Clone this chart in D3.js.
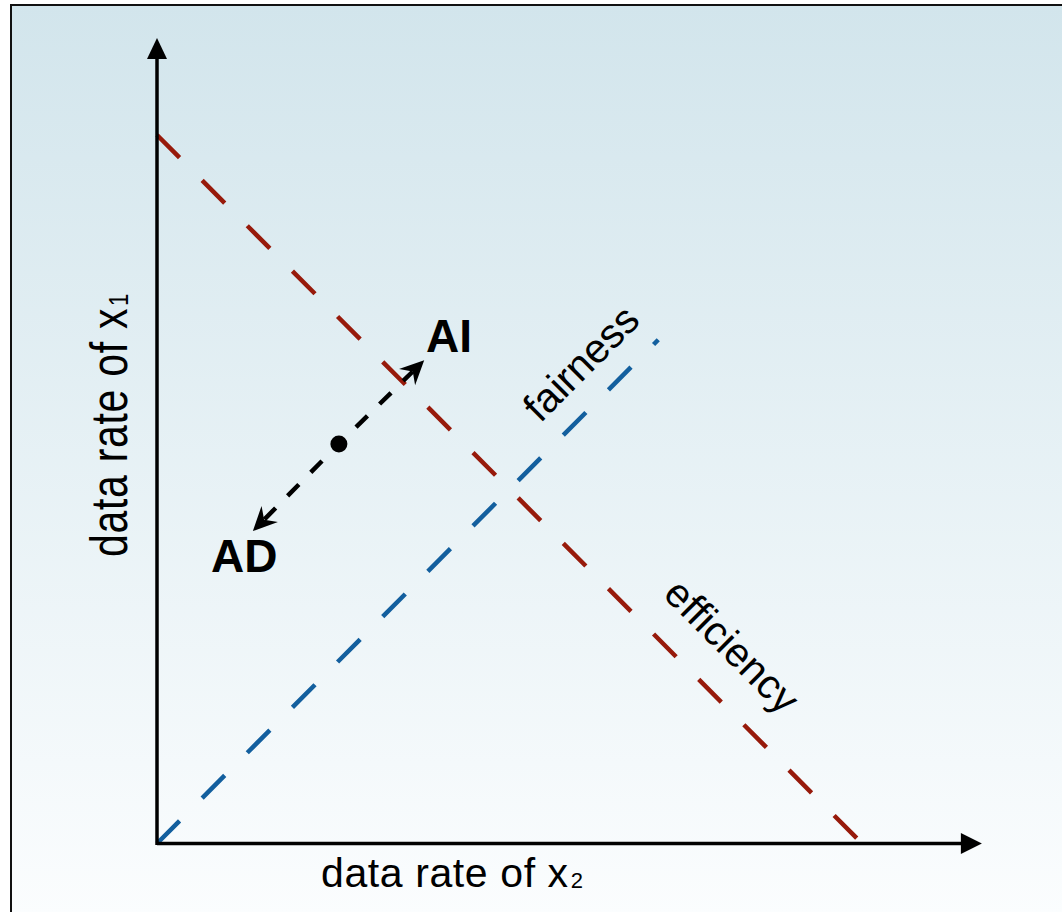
<!DOCTYPE html>
<html>
<head>
<meta charset="utf-8">
<script src="https://cdn.jsdelivr.net/npm/d3@7"></script>
<style>
html,body{margin:0;padding:0;background:#fff;}
svg{display:block;}
text{font-family:"Liberation Sans",Arial,Helvetica,sans-serif;}
</style>
</head>
<body>
<svg id="chart" width="1062" height="912"></svg>
<script>
// ---- data (normalised data rates, capacity = 1) ----
const axisLabels = ["data rate of x", "2", "data rate of x", "1"];
const axisMax = [1.17, 1.137];                 // [x2 max, x1 max]
const efficiencyX2 = [0, 1];
const efficiencyX1 = [1, 0];
const fairnessX2 = [0, 0.711];
const fairnessX1 = [0, 0.711];
const operatingPoint = [0.258, 0.564];       // [x2, x1]
const aiPoint = [0.379, 0.682];
const adPoint = [0.136, 0.441];
const lineNames = ["efficiency", "fairness"];
const pointNames = ["AI", "AD"];

const W = 1062, H = 912;
const svg = d3.select("#chart");
const defs = svg.append("defs");
const grad = defs.append("linearGradient").attr("id","bg").attr("x1",0).attr("y1",0).attr("x2",0).attr("y2",1);
grad.append("stop").attr("offset","0%").attr("stop-color","#d2e5ec");
grad.append("stop").attr("offset","100%").attr("stop-color","#fbfdfe");

svg.append("rect").attr("x",11).attr("y",5).attr("width",W).attr("height",H)
  .attr("fill","url(#bg)").attr("stroke","#111").attr("stroke-width",2);

const x = d3.scaleLinear().domain([0,1]).range([157,862]);
const y = d3.scaleLinear().domain([0,1]).range([843.5,135]);

// efficiency line
const line = d3.line().x(d=>x(d[0])).y(d=>y(d[1]));
svg.append("path").datum(efficiencyX2.map((v,i)=>[v,efficiencyX1[i]]))
  .attr("d",line).attr("fill","none").attr("stroke","#971a0b")
  .attr("stroke-width",4.5).attr("stroke-dasharray","32,32");
// fairness line
svg.append("path").datum(fairnessX2.map((v,i)=>[v,fairnessX1[i]]))
  .attr("d",line).attr("fill","none").attr("stroke","#135f9e")
  .attr("stroke-width",4.5).attr("stroke-dasharray","32,32");

// axes with arrows
const axisG = svg.append("g");
axisG.append("line").attr("x1",x(0)).attr("y1",y(0)).attr("x2",x(axisMax[0])-18).attr("y2",y(0))
  .attr("stroke","#000").attr("stroke-width",3.5);
axisG.append("line").attr("x1",x(0)).attr("y1",y(0)+1.5).attr("x2",x(0)).attr("y2",y(axisMax[1])+18)
  .attr("stroke","#000").attr("stroke-width",3.5);
const xt = x(axisMax[0]), yt = y(axisMax[1]);
axisG.append("path").attr("d",`M${xt},${y(0)} L${xt-21},${y(0)-10.5} L${xt-21},${y(0)+10.5} Z`).attr("fill","#000");
axisG.append("path").attr("d",`M${x(0)},${yt} L${x(0)-10},${yt+21} L${x(0)+10},${yt+21} Z`).attr("fill","#000");

// black dashed arrows from operating point
const p0 = [x(operatingPoint[0]), y(operatingPoint[1])];
[aiPoint, adPoint].forEach(pt=>{
  const p1 = [x(pt[0]), y(pt[1])];
  const dx = p1[0]-p0[0], dy = p1[1]-p0[1];
  const len = Math.hypot(dx,dy), ux = dx/len, uy = dy/len;
  const ang = Math.atan2(dy,dx)*180/Math.PI;
  svg.append("line").attr("x1",p0[0]).attr("y1",p0[1])
    .attr("x2",p1[0]-ux*16).attr("y2",p1[1]-uy*16)
    .attr("stroke","#000").attr("stroke-width",4.5)
    .attr("stroke-dasharray","16,17").attr("stroke-dashoffset",9);
  svg.append("path").attr("d","M0,0 L-24,-11.5 L-16,0 L-24,11.5 Z")
    .attr("transform",`translate(${p1[0]},${p1[1]}) rotate(${ang})`).attr("fill","#000");
});
svg.append("circle").attr("cx",p0[0]).attr("cy",p0[1]).attr("r",8.5).attr("fill","#000");

// point labels
svg.append("text").attr("x",426).attr("y",352).attr("font-size",46).attr("font-weight","bold").text(pointNames[0]);
svg.append("text").attr("x",211).attr("y",572).attr("font-size",46).attr("font-weight","bold").text(pointNames[1]);

// line labels
svg.append("text").attr("text-anchor","middle").attr("font-size",41)
  .attr("transform","translate(591,373) rotate(-45)").text(lineNames[1]);
svg.append("text").attr("text-anchor","middle").attr("font-size",41)
  .attr("transform","translate(722,656) rotate(45)").text(lineNames[0]);

// axis titles
const xl = svg.append("text").attr("x",321).attr("y",887).attr("font-size",41).attr("letter-spacing",0.6);
xl.append("tspan").text(axisLabels[0]);
xl.append("tspan").attr("font-size",22).attr("dy",1).attr("dx",2).text(axisLabels[1]);
const yl = svg.append("text").attr("transform","translate(127,557) rotate(-90) scale(1,1.27)").attr("font-size",41).attr("letter-spacing",0.7);
yl.append("tspan").text(axisLabels[2]);
yl.append("tspan").attr("font-size",22).attr("dy",1).attr("dx",2).text(axisLabels[3]);
</script>
</body>
</html>
